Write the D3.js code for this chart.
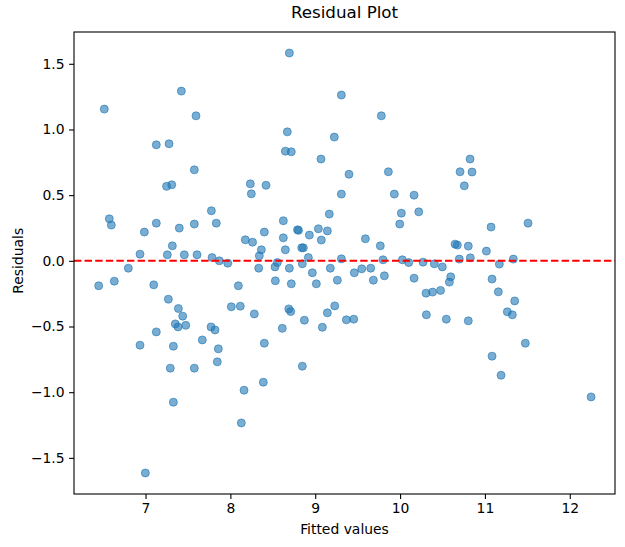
<!DOCTYPE html>
<html>
<head>
<meta charset="utf-8">
<script src="https://cdn.jsdelivr.net/npm/d3@7"></script>
<style>
  body { margin: 0; background: #fff; }
  svg { display: block; font-family: "DejaVu Sans", sans-serif; }
</style>
</head>
<body>
<div id="chart"></div>
<script>
// fitted values (x) and residuals (y)
var fitted = [
  6.514, 7.422, 7.595, 7.127, 7.277, 7.575, 7.248, 7.309, 8.235, 8.695,
  9.308, 9.779, 8.671, 9.225, 8.648, 8.718, 9.068, 9.398, 9.862, 8.420,
  10.825, 10.707, 10.848, 10.757, 8.247, 6.573, 6.597, 7.776, 7.127, 6.986,
  7.398, 7.575, 7.834, 8.176, 8.261, 7.316, 6.935, 7.257, 7.457, 7.607,
  7.784, 7.870, 7.969, 8.341, 8.334, 6.797, 6.448, 6.632, 7.097, 8.094,
  7.269, 7.387, 7.438, 8.011, 8.117, 8.282, 7.351, 7.383, 7.474, 7.772,
  7.819, 7.127, 9.308, 9.932, 10.165, 9.166, 10.015, 10.220, 9.996, 8.624,
  8.400, 8.791, 8.803, 9.037, 9.143, 8.931, 8.624, 9.072, 8.365, 8.648,
  8.841, 8.860, 9.591, 9.767, 8.919, 9.308, 9.799, 10.027, 10.102, 10.271,
  10.404, 8.526, 8.553, 8.695, 8.848, 9.178, 8.966, 9.461, 9.548, 9.654,
  8.530, 8.718, 9.013, 9.261, 9.685, 9.815, 10.165, 10.306, 10.383, 10.477,
  8.688, 8.711, 9.230, 9.143, 8.872, 9.367, 9.454, 10.310, 8.612, 9.084,
  11.072, 11.508, 10.648, 10.675, 10.804, 11.017, 10.698, 10.828, 11.335, 10.498,
  11.170, 10.597, 10.581, 11.084, 11.158, 11.351, 11.264, 11.323, 10.545, 10.804,
  6.935, 7.328, 7.669, 7.858, 7.846, 7.292, 7.575, 8.400, 8.388, 8.161,
  7.328, 8.129, 6.998, 8.848, 11.476, 11.084, 11.190, 12.251
];
var residuals = [
  1.155, 1.292, 1.104, 0.883, 0.891, 0.693, 0.567, 0.579, 0.586, 1.582,
  1.262, 1.104, 0.982, 0.942, 0.835, 0.830, 0.775, 0.659, 0.678, 0.575,
  0.775, 0.678, 0.676, 0.571, 0.510, 0.320, 0.272, 0.381, 0.287, 0.219,
  0.249, 0.280, 0.287, 0.160, 0.142, 0.114, 0.051, 0.046, 0.046, 0.046,
  0.025, 0.000, -0.018, 0.038, -0.056, -0.056, -0.190, -0.155, -0.183, -0.190,
  -0.292, -0.363, -0.421, -0.350, -0.345, -0.404, -0.480, -0.503, -0.491, -0.503,
  -0.526, -0.541, 0.508, 0.508, 0.500, 0.356, 0.363, 0.373, 0.280, 0.305,
  0.219, 0.236, 0.232, 0.244, 0.228, 0.196, 0.175, 0.158, 0.084, 0.084,
  0.099, 0.099, 0.168, 0.114, 0.025, 0.015, 0.008, 0.008, -0.013, -0.010,
  -0.023, -0.046, -0.013, -0.056, -0.023, -0.056, -0.091, -0.091, -0.061, -0.056,
  -0.152, -0.175, -0.175, -0.147, -0.147, -0.114, -0.132, -0.246, -0.238, -0.225,
  -0.366, -0.386, -0.343, -0.396, -0.452, -0.449, -0.444, -0.411, -0.514, -0.506,
  0.257, 0.287, 0.127, 0.120, 0.112, 0.074, 0.013, 0.023, 0.013, -0.046,
  -0.025, -0.122, -0.162, -0.139, -0.236, -0.305, -0.388, -0.411, -0.444, -0.457,
  -0.642, -0.650, -0.602, -0.670, -0.769, -0.817, -0.817, -0.627, -0.924, -0.985,
  -1.076, -1.234, -1.615, -0.802, -0.627, -0.726, -0.871, -1.036
];

var xTicks = [7, 8, 9, 10, 11, 12];
var yTicks = [-1.5, -1.0, -0.5, 0.0, 0.5, 1.0, 1.5];

var width = 625,
    height = 547;
var margin = { top: 32, right: 10, bottom: 53, left: 74 };

var svg = d3.select("#chart")
    .append("svg")
    .attr("width", width)
    .attr("height", height);

var x = d3.scaleLinear()
    .domain([6.157, 12.533])
    .range([margin.left, width - margin.right]);

var y = d3.scaleLinear()
    .domain([-1.775, 1.742])
    .range([height - margin.bottom, margin.top]);

var points = fitted.map(function (d, i) {
    return { x: d, y: residuals[i] };
});

// points
svg.append("g")
    .selectAll("circle")
    .data(points)
    .enter()
    .append("circle")
    .attr("cx", d => x(d.x))
    .attr("cy", d => y(d.y))
    .attr("r", 4)
    .style("fill", "#1f77b4")
    .style("fill-opacity", 0.6)
    .style("stroke", "#1f77b4")
    .style("stroke-opacity", 0.6)
    .style("stroke-width", 1);

// zero line
svg.append("line")
    .attr("x1", margin.left)
    .attr("x2", width - margin.right)
    .attr("y1", y(0))
    .attr("y2", y(0))
    .style("stroke", "#ff0000")
    .style("stroke-width", 2)
    .style("stroke-dasharray", "7.4,3.2");

// axes
var xAxis = svg.append("g")
    .attr("transform", "translate(0," + (height - margin.bottom) + ")")
    .call(d3.axisBottom(x).tickValues(xTicks).tickSize(4.9).tickPadding(4.5).tickFormat(d3.format("d")));

var yAxis = svg.append("g")
    .attr("transform", "translate(" + margin.left + ",0)")
    .call(d3.axisLeft(y).tickValues(yTicks).tickSize(4.9).tickPadding(4.5).tickFormat(d3.format(".1f")));

[xAxis, yAxis].forEach(function (a) {
    a.select(".domain").remove();
    a.selectAll("line").style("stroke", "#000").style("stroke-width", 1.1);
    a.selectAll("text")
        .style("font-family", "DejaVu Sans")
        .style("font-size", "13.9px")
        .style("fill", "#000");
});

// frame
svg.append("rect")
    .attr("x", margin.left)
    .attr("y", margin.top)
    .attr("width", width - margin.left - margin.right)
    .attr("height", height - margin.top - margin.bottom)
    .style("fill", "none")
    .style("stroke", "#000")
    .style("stroke-width", 1.1);

// title and labels
svg.append("text")
    .attr("x", (margin.left + width - margin.right) / 2)
    .attr("y", 18)
    .attr("text-anchor", "middle")
    .style("font-size", "16.7px")
    .text("Residual Plot");

svg.append("text")
    .attr("x", (margin.left + width - margin.right) / 2)
    .attr("y", 534)
    .attr("text-anchor", "middle")
    .style("font-size", "13.9px")
    .text("Fitted values");

svg.append("text")
    .attr("transform", "translate(23," + y(0) + ") rotate(-90)")
    .attr("text-anchor", "middle")
    .style("font-size", "13.9px")
    .text("Residuals");
</script>
</body>
</html>
